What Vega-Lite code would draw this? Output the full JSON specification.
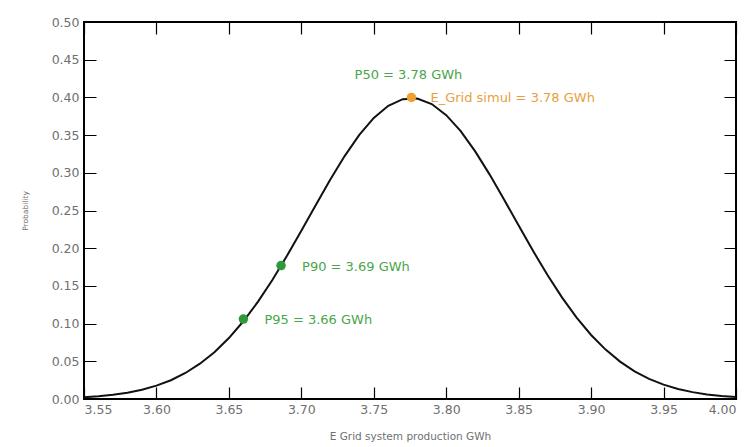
{
  "$schema": "https://vega.github.io/schema/vega-lite/v6.json",
  "width": 652,
  "height": 377,
  "autosize": {"type": "none"},
  "padding": {"left": 84, "top": 22, "right": 15, "bottom": 48},
  "background": "white",
  "config": {
    "view": {"stroke": "#000000", "strokeWidth": 2},
    "font": "DejaVu Sans",
    "axis": {"domain": false, "ticks": false, "grid": true, "gridColor": "black", "gridOpacity": 1, "gridWidth": 1.2, "labelColor": "#707070", "titleColor": "#707070", "labelFont": "DejaVu Sans", "titleFont": "DejaVu Sans", "labelFontSize": 12.5}
  },
  "datasets": {
    "curve": [
      {"x": 3.55, "y": 0.0023}, {"x": 3.56, "y": 0.0037}, {"x": 3.57, "y": 0.0056}, {"x": 3.58, "y": 0.0084},
      {"x": 3.59, "y": 0.0123}, {"x": 3.60, "y": 0.0177}, {"x": 3.61, "y": 0.0249}, {"x": 3.62, "y": 0.0345},
      {"x": 3.63, "y": 0.0468}, {"x": 3.64, "y": 0.0620}, {"x": 3.65, "y": 0.0808}, {"x": 3.66, "y": 0.1031},
      {"x": 3.67, "y": 0.1289}, {"x": 3.68, "y": 0.1579}, {"x": 3.69, "y": 0.1896}, {"x": 3.70, "y": 0.2232},
      {"x": 3.71, "y": 0.2574}, {"x": 3.72, "y": 0.2910}, {"x": 3.73, "y": 0.3225}, {"x": 3.74, "y": 0.3502},
      {"x": 3.75, "y": 0.3728}, {"x": 3.76, "y": 0.3889}, {"x": 3.77, "y": 0.3976}, {"x": 3.78, "y": 0.3984},
      {"x": 3.79, "y": 0.3912}, {"x": 3.80, "y": 0.3765}, {"x": 3.81, "y": 0.3552}, {"x": 3.82, "y": 0.3284},
      {"x": 3.83, "y": 0.2976}, {"x": 3.84, "y": 0.2643}, {"x": 3.85, "y": 0.2300}, {"x": 3.86, "y": 0.1962},
      {"x": 3.87, "y": 0.1640}, {"x": 3.88, "y": 0.1344}, {"x": 3.89, "y": 0.1079}, {"x": 3.90, "y": 0.0849},
      {"x": 3.91, "y": 0.0655}, {"x": 3.92, "y": 0.0496}, {"x": 3.93, "y": 0.0367}, {"x": 3.94, "y": 0.0267},
      {"x": 3.95, "y": 0.0190}, {"x": 3.96, "y": 0.0132}, {"x": 3.97, "y": 0.0091}, {"x": 3.98, "y": 0.0061},
      {"x": 3.99, "y": 0.0040}, {"x": 4.00, "y": 0.0026}
    ],
    "marks": [
      {"name": "P50", "x": 3.776, "y": 0.400, "kind": "mean", "label": "P50 = 3.78 GWh", "label2": "E_Grid simul = 3.78 GWh"},
      {"name": "P90", "x": 3.686, "y": 0.177, "kind": "p", "label": "P90 = 3.69 GWh", "label2": ""},
      {"name": "P95", "x": 3.660, "y": 0.106, "kind": "p", "label": "P95 = 3.66 GWh", "label2": ""}
    ]
  },
  "resolve": {"axis": {"x": "independent", "y": "independent"}},
  "layer": [
    {
      "data": {"name": "curve"},
      "mark": {"type": "line", "color": "#111111", "strokeWidth": 2},
      "encoding": {
        "x": {"field": "x", "type": "quantitative", "scale": {"domain": [3.55, 4.0], "nice": false, "zero": false},
          "axis": {"orient": "bottom", "values": [3.55, 3.6, 3.65, 3.7, 3.75, 3.8, 3.85, 3.9, 3.95, 4.0], "format": ".2f", "gridDash": [12, 353, 12, 2000], "labelPadding": 4, "title": "E Grid system production GWh", "titleFontSize": 10.5, "titleFontWeight": "normal", "titlePadding": 16}},
        "y": {"field": "y", "type": "quantitative", "scale": {"domain": [0, 0.5], "nice": false},
          "axis": {"orient": "left", "values": [0, 0.05, 0.1, 0.15, 0.2, 0.25, 0.3, 0.35, 0.4, 0.45, 0.5], "format": ".2f", "gridDash": [12, 628, 12, 2000], "labelPadding": 5, "title": "Probability", "titleFontSize": 7.5, "titleFontWeight": "normal", "titlePadding": 22}}
      }
    },
    {
      "data": {"name": "curve"},
      "mark": {"type": "point", "opacity": 0},
      "encoding": {
        "x": {"field": "x", "type": "quantitative",
          "axis": {"orient": "bottom", "values": [3.56,3.57,3.58,3.59,3.61,3.62,3.63,3.64,3.66,3.67,3.68,3.69,3.71,3.72,3.73,3.74,3.76,3.77,3.78,3.79,3.81,3.82,3.83,3.84,3.86,3.87,3.88,3.89,3.91,3.92,3.93,3.94,3.96,3.97,3.98,3.99], "gridDash": [6, 365, 6, 2000], "labels": false, "title": null}},
        "y": {"field": "y", "type": "quantitative",
          "axis": {"orient": "left", "values": [0.01,0.02,0.03,0.04,0.06,0.07,0.08,0.09,0.11,0.12,0.13,0.14,0.16,0.17,0.18,0.19,0.21,0.22,0.23,0.24,0.26,0.27,0.28,0.29,0.31,0.32,0.33,0.34,0.36,0.37,0.38,0.39,0.41,0.42,0.43,0.44,0.46,0.47,0.48,0.49], "gridDash": [6, 640, 6, 2000], "labels": false, "title": null}}
      }
    },
    {
      "data": {"name": "curve"},
      "mark": {"type": "point", "opacity": 0},
      "encoding": {
        "x": {"field": "x", "type": "quantitative",
          "axis": {"orient": "top", "values": [3.55, 3.6, 3.65, 3.7, 3.75, 3.8, 3.85, 3.9, 3.95, 4.0], "gridDash": [12, 353, 12, 2000], "labels": false, "title": null}},
        "y": {"field": "y", "type": "quantitative",
          "axis": {"orient": "right", "values": [0, 0.05, 0.1, 0.15, 0.2, 0.25, 0.3, 0.35, 0.4, 0.45, 0.5], "gridDash": [12, 628, 12, 2000], "labels": false, "title": null}}
      }
    },
    {
      "data": {"name": "curve"},
      "mark": {"type": "point", "opacity": 0},
      "encoding": {
        "x": {"field": "x", "type": "quantitative",
          "axis": {"orient": "top", "values": [3.56,3.57,3.58,3.59,3.61,3.62,3.63,3.64,3.66,3.67,3.68,3.69,3.71,3.72,3.73,3.74,3.76,3.77,3.78,3.79,3.81,3.82,3.83,3.84,3.86,3.87,3.88,3.89,3.91,3.92,3.93,3.94,3.96,3.97,3.98,3.99], "gridDash": [6, 365, 6, 2000], "labels": false, "title": null}},
        "y": {"field": "y", "type": "quantitative",
          "axis": {"orient": "right", "values": [0.01,0.02,0.03,0.04,0.06,0.07,0.08,0.09,0.11,0.12,0.13,0.14,0.16,0.17,0.18,0.19,0.21,0.22,0.23,0.24,0.26,0.27,0.28,0.29,0.31,0.32,0.33,0.34,0.36,0.37,0.38,0.39,0.41,0.42,0.43,0.44,0.46,0.47,0.48,0.49], "gridDash": [6, 640, 6, 2000], "labels": false, "title": null}}
      }
    },
    {
      "data": {"name": "marks"},
      "mark": {"type": "point", "filled": true, "size": 90, "opacity": 1},
      "encoding": {
        "x": {"field": "x", "type": "quantitative", "axis": null},
        "y": {"field": "y", "type": "quantitative", "axis": null},
        "color": {"field": "kind", "type": "nominal", "scale": {"domain": ["mean", "p"], "range": ["#f0a030", "#2e9a3a"]}, "legend": null}
      }
    },
    {
      "data": {"name": "marks"},
      "transform": [{"filter": "datum.kind == 'p'"}],
      "mark": {"type": "text", "align": "left", "baseline": "middle", "dx": 21, "dy": 1, "fontSize": 13, "color": "#4aa64a"},
      "encoding": {
        "x": {"field": "x", "type": "quantitative", "axis": null},
        "y": {"field": "y", "type": "quantitative", "axis": null},
        "text": {"field": "label"}
      }
    },
    {
      "data": {"name": "marks"},
      "transform": [{"filter": "datum.kind == 'mean'"}],
      "mark": {"type": "text", "align": "center", "baseline": "middle", "dx": -3, "dy": -22, "fontSize": 13, "color": "#4aa64a"},
      "encoding": {
        "x": {"field": "x", "type": "quantitative", "axis": null},
        "y": {"field": "y", "type": "quantitative", "axis": null},
        "text": {"field": "label"}
      }
    },
    {
      "data": {"name": "marks"},
      "transform": [{"filter": "datum.kind == 'mean'"}],
      "mark": {"type": "text", "align": "left", "baseline": "middle", "dx": 19, "dy": 1, "fontSize": 13, "color": "#e8a040"},
      "encoding": {
        "x": {"field": "x", "type": "quantitative", "axis": null},
        "y": {"field": "y", "type": "quantitative", "axis": null},
        "text": {"field": "label2"}
      }
    }
  ]
}
